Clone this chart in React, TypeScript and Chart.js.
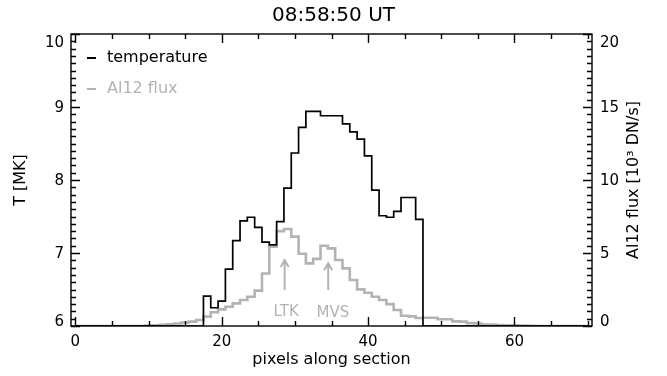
import React, { useEffect, useRef } from "react";
import { Chart, registerables } from "chart.js";

Chart.register(...registerables);

const FONT = "'DejaVu Sans', sans-serif";
const GRAY = "#b3b3b3";

const TITLE = "08:58:50 UT";
const X_TITLE = "pixels along section";
const Y_TITLE = "T [MK]";
const Y2_TITLE = "Al12 flux [10\u00b3 DN/s]";

// pixel index along the section (0..70)
const PIXELS = [
  0, 1, 2, 3, 4, 5, 6, 7, 8, 9, 10, 11, 12, 13, 14, 15, 16, 17, 18, 19, 20,
  21, 22, 23, 24, 25, 26, 27, 28, 29, 30, 31, 32, 33, 34, 35, 36, 37, 38, 39, 40,
  41, 42, 43, 44, 45, 46, 47, 48, 49, 50, 51, 52, 53, 54, 55, 56, 57, 58, 59, 60,
  61, 62, 63, 64, 65, 66, 67, 68, 69, 70,
];

// temperature [MK]
const TEMPERATURE = [
  6, 6, 6, 6, 6, 6, 6, 6, 6, 6, 6, 6, 6, 6, 6, 6, 6, 6,
  6.41, 6.25, 6.34, 6.78, 7.17, 7.44, 7.49, 7.35, 7.15, 7.11,
  7.43, 7.89, 8.37, 8.72, 8.94, 8.94, 8.88, 8.88, 8.88, 8.77,
  8.66, 8.56, 8.33, 7.86, 7.51, 7.49, 7.57, 7.76, 7.76, 7.46,
  6, 6, 6, 6, 6, 6, 6, 6, 6, 6, 6, 6, 6, 6, 6, 6, 6, 6, 6, 6, 6, 6, 6,
];

// Al12 flux [10^3 DN/s]
const FLUX = [
  0, 0, 0, 0, 0, 0, 0, 0, 0, 0,
  0.03, 0.05, 0.08, 0.12, 0.17, 0.23, 0.3, 0.41, 0.64, 0.94,
  1.14, 1.32, 1.55, 1.78, 2.0, 2.42, 3.6, 5.43, 6.5, 6.64,
  6.12, 4.95, 4.29, 4.6, 5.5, 5.32, 4.52, 3.95, 3.15, 2.51,
  2.28, 2.0, 1.78, 1.5, 1.1, 0.7, 0.66, 0.55, 0.57, 0.57,
  0.46, 0.46, 0.32, 0.3, 0.2, 0.17, 0.1, 0.1, 0.06, 0.05,
  0.04, 0.03, 0.02,
  0, 0, 0, 0, 0, 0, 0, 0,
];

const X_TICKS = [0, 20, 40, 60];
const T_TICKS = [6, 7, 8, 9, 10];
const F_TICKS = [0, 5, 10, 15, 20];

// arrow annotations (x in pixels, y in flux units)
const ANNOT_LABELS = ["LTK", "MVS"];
const ANNOT_X = [28.6, 34.55];
const ANNOT_FROM = [2.47, 2.47];
const ANNOT_TO = [4.52, 4.29];
const ANNOT_TEXT_X = [28.8, 35.2];
const ANNOT_TEXT_Y = [0.96, 0.9];

const framePlugin = {
  id: "frame",
  beforeDraw(chart: any) {
    // nudge the end tick labels of the vertical axes inside the frame
    ["y", "y2"].forEach((id) => {
      const s = chart.scales[id];
      const items = s.getLabelItems(chart.chartArea);
      if (!items || !items.length) return;
      items.forEach((it: any, i: number) => {
        const tr = it.options.translation;
        if (i === 0) tr[1] -= 4;
        else if (i === items.length - 1) tr[1] += 9;
        else tr[1] += 1;
      });
    });
  },
  afterDatasetsDraw(chart: any) {
    const { ctx, chartArea: a, scales } = chart;
    const x = scales.x, y = scales.y, y2 = scales.y2;
    ctx.save();
    ctx.strokeStyle = "#000";
    ctx.lineWidth = 1.4;
    ctx.strokeRect(a.left, a.top, a.right - a.left, a.bottom - a.top);
    ctx.beginPath();
    for (let v = 0; v <= 70; v += 5) {
      const px = Math.round(x.getPixelForValue(v)) + 0.5;
      const len = v % 20 === 0 ? 9 : 5;
      ctx.moveTo(px, a.bottom);
      ctx.lineTo(px, a.bottom - len);
      ctx.moveTo(px, a.top);
      ctx.lineTo(px, a.top + len);
    }
    for (let i = 60; i <= 100; i++) {
      const py = Math.round(y.getPixelForValue(i / 10)) + 0.5;
      const len = i % 10 === 0 ? 9 : 5;
      ctx.moveTo(a.left, py);
      ctx.lineTo(a.left + len, py);
    }
    for (let i = 0; i <= 40; i++) {
      const py = Math.round(y2.getPixelForValue(i / 2)) + 0.5;
      const len = i % 10 === 0 ? 9 : 5;
      ctx.moveTo(a.right, py);
      ctx.lineTo(a.right - len, py);
    }
    ctx.stroke();

    // annotations
    ctx.strokeStyle = GRAY;
    ctx.fillStyle = GRAY;
    ctx.lineWidth = 2;
    ctx.font = `15px ${FONT}`;
    ctx.textAlign = "center";
    ctx.textBaseline = "middle";
    ANNOT_LABELS.forEach((lab, i) => {
      const px = x.getPixelForValue(ANNOT_X[i]);
      const p0 = y2.getPixelForValue(ANNOT_FROM[i]);
      const p1 = y2.getPixelForValue(ANNOT_TO[i]);
      ctx.beginPath();
      ctx.moveTo(px, p0);
      ctx.lineTo(px, p1);
      ctx.moveTo(px - 4, p1 + 7);
      ctx.lineTo(px, p1);
      ctx.lineTo(px + 4, p1 + 7);
      ctx.stroke();
      ctx.fillText(lab, x.getPixelForValue(ANNOT_TEXT_X[i]), y2.getPixelForValue(ANNOT_TEXT_Y[i]));
    });
    ctx.restore();
  },
  afterDraw(chart: any) {
    const { ctx, chartArea: a } = chart;
    ctx.save();
    // legend
    ctx.font = `16px ${FONT}`;
    ctx.textAlign = "left";
    ctx.textBaseline = "middle";
    chart.data.datasets.forEach((ds: any, i: number) => {
      const yy = a.top + 24 + i * 31;
      const x0 = a.left + 16;
      ctx.strokeStyle = ds.borderColor;
      ctx.lineWidth = 2;
      ctx.beginPath();
      ctx.moveTo(x0, yy);
      ctx.lineTo(x0 + 9, yy);
      ctx.stroke();
      ctx.fillStyle = ds.borderColor;
      ctx.fillText(ds.label, x0 + 20, yy);
    });
    // right axis title, reading bottom-to-top
    const s2 = chart.scales.y2;
    ctx.translate(634, (a.top + a.bottom) / 2);
    ctx.rotate(-Math.PI / 2);
    ctx.textAlign = "center";
    ctx.fillStyle = "#000";
    ctx.font = `16px ${FONT}`;
    ctx.fillText(s2.options.title.text, 0, 0);
    ctx.restore();
  },
};

export default function App() {
  const ref = useRef<HTMLCanvasElement | null>(null);
  useEffect(() => {
    if (!ref.current) return;
    Chart.defaults.font.family = FONT;
    const chart = new Chart(ref.current, {
      type: "line",
      data: {
        datasets: [
          {
            label: "temperature",
            data: PIXELS.map((p, i) => ({ x: p, y: TEMPERATURE[i] })),
            borderColor: "#000000",
            borderWidth: 1.7,
            stepped: "middle",
            pointRadius: 0,
            fill: false,
            yAxisID: "y",
          },
          {
            label: "Al12 flux",
            data: PIXELS.map((p, i) => ({ x: p, y: FLUX[i] })),
            borderColor: GRAY,
            borderWidth: 2.6,
            stepped: "middle",
            pointRadius: 0,
            fill: false,
            yAxisID: "y2",
          },
        ],
      },
      options: {
        animation: false,
        responsive: false,
        devicePixelRatio: 1,
        layout: { padding: 0 },
        plugins: {
          legend: { display: false },
          tooltip: { enabled: false },
          title: {
            display: true,
            text: TITLE,
            color: "#000",
            font: { size: 20, weight: "normal", family: FONT },
            padding: { top: 4, bottom: 6 },
          },
        },
        scales: {
          x: {
            type: "linear",
            min: -0.6,
            max: 70.6,
            afterBuildTicks: (s: any) => {
              s.ticks = X_TICKS.map((v) => ({ value: v }));
            },
            afterFit: (s: any) => {
              s.height = 50;
            },
            grid: { display: false, drawTicks: false },
            border: { display: false },
            ticks: { padding: 7, color: "#000", font: { size: 15 }, maxRotation: 0, autoSkip: false },
            title: { display: true, text: X_TITLE, color: "#000", font: { size: 16 }, padding: { top: 0, bottom: 7 } },
          },
          y: {
            type: "linear",
            position: "left",
            min: 6,
            max: 10,
            afterBuildTicks: (s: any) => {
              s.ticks = T_TICKS.map((v) => ({ value: v }));
            },
            afterFit: (s: any) => {
              s.width = 71;
            },
            grid: { display: false, drawTicks: false },
            border: { display: false },
            ticks: { padding: 7, color: "#000", font: { size: 15 }, autoSkip: false },
            title: { display: true, text: Y_TITLE, color: "#000", font: { size: 16 }, padding: { top: 11, bottom: 0 } },
          },
          y2: {
            type: "linear",
            position: "right",
            min: 0,
            max: 20,
            afterBuildTicks: (s: any) => {
              s.ticks = F_TICKS.map((v) => ({ value: v }));
            },
            afterFit: (s: any) => {
              s.width = 75;
            },
            grid: { display: false, drawTicks: false },
            border: { display: false },
            ticks: { padding: 8, color: "#000", font: { size: 15 }, autoSkip: false },
            title: { display: false, text: Y2_TITLE, color: "#000", font: { size: 16 } },
          },
        },
      },
      plugins: [framePlugin],
    } as any);
    return () => chart.destroy();
  }, []);
  return (
    <div style={{ position: "fixed", left: 0, top: 0, width: 667, height: 376, background: "#fff" }}>
      <canvas ref={ref} width={667} height={376} style={{ width: 667, height: 376, display: "block" }} />
    </div>
  );
}
